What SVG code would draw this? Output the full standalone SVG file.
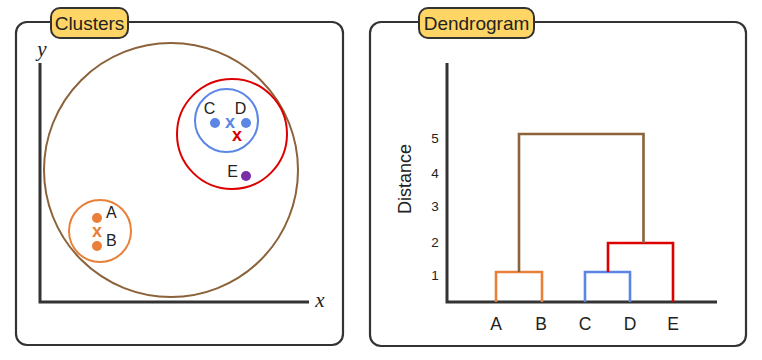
<svg xmlns="http://www.w3.org/2000/svg" width="762" height="360" viewBox="0 0 762 360">
<style>
.panel{fill:#fff;stroke:#333;stroke-width:2.2}
.tag{fill:#FFD666;stroke:#333;stroke-width:2}
.tagt{font-family:"Liberation Sans",Arial,sans-serif;font-size:19px;fill:#222;text-anchor:middle}
.axis{stroke:#333;stroke-width:3;fill:none}
.math{font-family:"Liberation Serif","Times New Roman",serif;font-style:italic;font-size:21px;fill:#222;text-anchor:middle}
.lbl{font-family:"Liberation Sans",Arial,sans-serif;font-size:16px;fill:#222}
.tick{font-family:"Liberation Sans",Arial,sans-serif;font-size:13.5px;fill:#222;text-anchor:middle}
.xl{font-family:"Liberation Sans",Arial,sans-serif;font-size:17.5px;fill:#222;text-anchor:middle}
.ylab{font-family:"Liberation Sans",Arial,sans-serif;font-size:18px;fill:#222;text-anchor:middle}
.dend{fill:none;stroke-width:2.6}
.mark{font-family:"Liberation Sans",Arial,sans-serif;font-weight:bold;font-size:18px;text-anchor:middle}
</style>
<g id="clusters-panel">
<rect class="panel" x="16" y="22" width="327" height="323" rx="11"/>
<rect class="tag" x="51" y="8" width="77" height="30" rx="9"/>
<text class="tagt" x="89.5" y="30">Clusters</text>
</g>
<g id="clusters-axes">
<polyline class="axis" points="40,63 40,302 309,302"/>
<text class="math" x="42" y="56">y</text>
<text class="math" x="320" y="307">x</text>
</g>
<g id="cluster-ABCDE">
<circle cx="171" cy="170" r="127" fill="none" stroke="#8B6239" stroke-width="2"/>
</g>
<g id="cluster-CDE">
<circle cx="232" cy="134" r="55" fill="none" stroke="#DD0000" stroke-width="2"/>
</g>
<g id="cluster-CD">
<circle cx="226.5" cy="120.5" r="31.5" fill="none" stroke="#5B86E5" stroke-width="2"/>
</g>
<g id="cluster-AB">
<circle cx="100" cy="231" r="31" fill="none" stroke="#E8803A" stroke-width="2"/>
</g>
<g id="point-A">
<circle cx="97" cy="218" r="5" fill="#E8803A"/>
<text class="lbl" x="106" y="218">A</text>
</g>
<g id="point-B">
<circle cx="97" cy="246" r="5" fill="#E8803A"/>
<text class="lbl" x="106" y="246">B</text>
</g>
<g id="centroid-AB">
<text class="mark" x="97" y="237" fill="#E8803A">x</text>
</g>
<g id="point-C">
<circle cx="215" cy="123" r="5" fill="#5B86E5"/>
<text class="lbl" x="209.5" y="114" text-anchor="middle">C</text>
</g>
<g id="point-D">
<circle cx="246" cy="123" r="5" fill="#5B86E5"/>
<text class="lbl" x="240.5" y="114" text-anchor="middle">D</text>
</g>
<g id="centroid-CD">
<text class="mark" x="230" y="128" fill="#5B86E5">x</text>
</g>
<g id="centroid-CDE">
<text class="mark" x="237" y="141" fill="#DD0000">x</text>
</g>
<g id="point-E">
<circle cx="246" cy="176" r="5" fill="#7B2FA6"/>
<text class="lbl" x="232.5" y="177" text-anchor="middle">E</text>
</g>
<g id="dendrogram-panel">
<rect class="panel" x="370" y="22" width="376" height="324" rx="11"/>
<rect class="tag" x="419" y="8" width="115" height="30" rx="9"/>
<text class="tagt" x="476.5" y="30">Dendrogram</text>
</g>
<g id="dendrogram-axes">
<polyline class="axis" points="447,63 447,302 717,302"/>
<text class="ylab" transform="translate(411,179) rotate(-90)">Distance</text>
<text class="tick" x="435" y="143">5</text>
<text class="tick" x="435" y="178">4</text>
<text class="tick" x="435" y="211">3</text>
<text class="tick" x="435" y="247">2</text>
<text class="tick" x="435" y="280">1</text>
<text class="xl" x="496" y="330">A</text>
<text class="xl" x="541" y="330">B</text>
<text class="xl" x="585" y="330">C</text>
<text class="xl" x="630" y="330">D</text>
<text class="xl" x="673" y="330">E</text>
</g>
<g id="connectors">
<polyline class="dend" stroke="#E8803A" points="496,302 496,272 542,272 542,302"/>
<polyline class="dend" stroke="#5B86E5" points="585,302 585,272 630,272 630,302"/>
<polyline class="dend" stroke="#DD0000" points="608,272 608,243 673,243 673,302"/>
<polyline class="dend" stroke="#8B6239" points="519,272 519,134 643.5,134 643.5,243"/>
</g>
</svg>
